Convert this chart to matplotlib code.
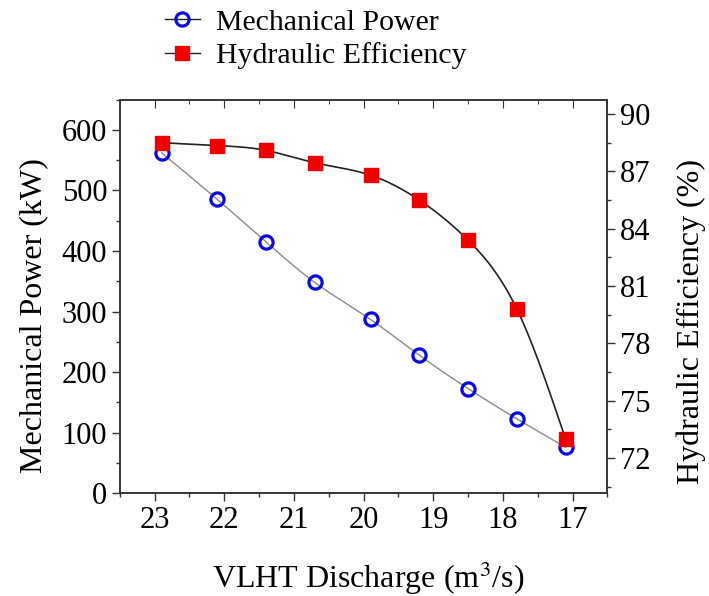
import numpy as np
import matplotlib
matplotlib.use("Agg")
import matplotlib.pyplot as plt
from matplotlib.ticker import MultipleLocator

plt.rcParams['font.family'] = ['Liberation Serif', 'DejaVu Serif']
plt.rcParams['mathtext.fontset'] = 'stix'

# data
discharge = [22.9, 22.1, 21.4, 20.7, 19.9, 19.2, 18.5, 17.8, 17.1]
mech_power = [562, 485, 415, 348, 287, 228, 173, 123, 76]
hyd_eff = [88.5, 88.35, 88.1, 87.45, 86.8, 85.5, 83.4, 79.8, 73.0]


def smooth(x, y, n=300):
    # natural cubic spline through the points, only used to draw the line
    x = np.asarray(x, float)
    y = np.asarray(y, float)
    o = np.argsort(x)
    x, y = x[o], y[o]
    k = len(x)
    h = np.diff(x)
    A = np.zeros((k, k))
    b = np.zeros(k)
    A[0, 0] = A[-1, -1] = 1
    for i in range(1, k - 1):
        A[i, i - 1] = h[i - 1]
        A[i, i] = 2 * (h[i - 1] + h[i])
        A[i, i + 1] = h[i]
        b[i] = 6 * ((y[i + 1] - y[i]) / h[i] - (y[i] - y[i - 1]) / h[i - 1])
    m = np.linalg.solve(A, b)
    xs = np.linspace(x[0], x[-1], n)
    j = np.clip(np.searchsorted(x, xs) - 1, 0, k - 2)
    t = xs - x[j]
    hj = h[j]
    ys = (m[j] * (x[j + 1] - xs) ** 3 / (6 * hj) + m[j + 1] * t ** 3 / (6 * hj)
          + (y[j] / hj - m[j] * hj / 6) * (x[j + 1] - xs)
          + (y[j + 1] / hj - m[j + 1] * hj / 6) * t)
    return xs, ys


fig = plt.figure(figsize=(7.09, 5.96), dpi=100)
ax = fig.add_axes([0.169, 0.1723, 0.6876, 0.6607])
ax2 = ax.twinx()

xs, ys = smooth(discharge, mech_power)
ax.plot(xs, ys, color='#8a8a8a', lw=1.0, zorder=1)
ax.plot(discharge, mech_power, ls='none', marker='o', ms=9.5, mfc='none',
        mec='#0a0ae0', mew=2.3, zorder=3)

xs2, ys2 = smooth(discharge, hyd_eff)
ax2.plot(xs2, ys2, color='#222222', lw=1.2, zorder=1)
ax2.plot(discharge, hyd_eff, ls='none', marker='s', ms=10.5, color='#ee0000',
         mec='#ee0000', zorder=3)

ax.set_xlim(23.5, 16.5)
ax.set_ylim(0, 650)
ax2.set_ylim(70.15, 90.76)

ax.xaxis.set_major_locator(MultipleLocator(1))
ax.xaxis.set_minor_locator(MultipleLocator(0.5))
ax.yaxis.set_major_locator(MultipleLocator(100))
ax.yaxis.set_minor_locator(MultipleLocator(50))
ax2.set_yticks(np.arange(72, 91, 3))
ax2.yaxis.set_minor_locator(MultipleLocator(1.5))

for a in (ax, ax2):
    a.tick_params(which='both', direction='out', labelsize=22, color='#333333',
                  width=1.0, pad=3)
    a.tick_params(which='major', length=6)
    a.tick_params(which='minor', length=3)
    for s in a.spines.values():
        s.set_color('#333333')
        s.set_linewidth(1.1)

# inward ticks on the top spine
top = ax.secondary_xaxis('top')
top.xaxis.set_major_locator(MultipleLocator(1))
top.xaxis.set_minor_locator(MultipleLocator(0.5))
top.tick_params(which='both', direction='in', labeltop=False, color='#333333')
top.tick_params(which='major', length=6)
top.tick_params(which='minor', length=3)
top.spines['top'].set_visible(False)

# axis titles placed in figure coords
fig.text(0.519, 0.0134, 'VLHT Discharge (m$^3$/s)', fontsize=23,
         ha='center', va='baseline')
fig.text(0.047, 1 - 316 / 596, 'Mechanical Power (kW)', fontsize=23,
         rotation=90, ha='center', va='center')
fig.text(0.975, 1 - 321 / 596, 'Hydraulic Efficiency (%)', fontsize=23,
         rotation=90, ha='center', va='center')

h1, = ax.plot([], [], color='#222222', lw=1.0, marker='o', ms=9.5, mfc='none',
              mec='#0a0ae0', mew=2.3)
h2, = ax.plot([], [], color='#222222', lw=1.0, marker='s', ms=10.5, mfc='#ee0000',
              mec='#ee0000')
fig.legend([h1, h2], ['Mechanical Power', 'Hydraulic Efficiency'],
           loc='upper left', bbox_to_anchor=(0.2327, 0.985), frameon=False,
           fontsize=21.5, handlelength=1.17, handletextpad=0.55, labelspacing=0.22,
           borderpad=0, borderaxespad=0)

fig.savefig('out.png', dpi=100)
